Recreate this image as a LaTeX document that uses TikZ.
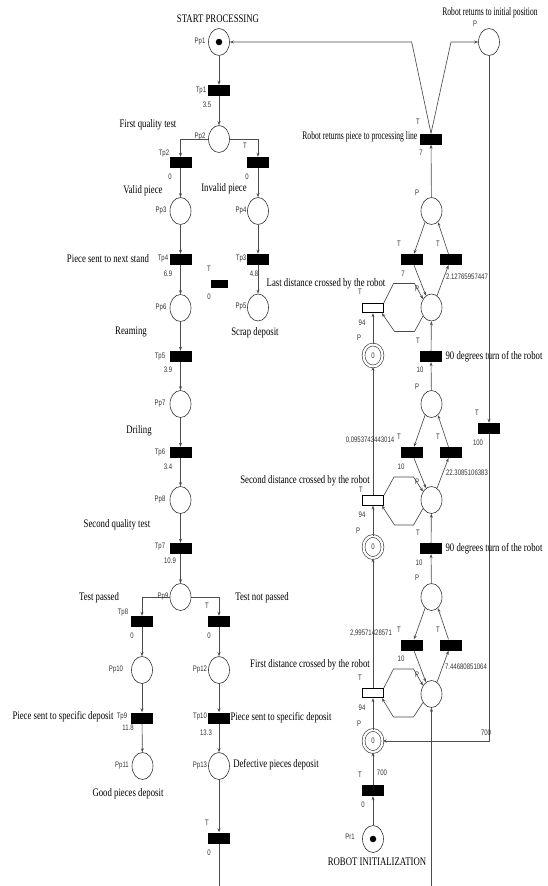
\documentclass[tikz,border=0pt]{standalone}
\usepackage{fontspec}
\usetikzlibrary{shapes.geometric,arrows.meta}
\newfontfamily\serifc[FakeStretch=0.76]{Liberation Serif}
\newfontfamily\serifn[FakeStretch=0.66]{Liberation Serif}
\newfontfamily\sansc[FakeStretch=0.75]{Liberation Sans}
\tikzset{
  pl/.style={ellipse, draw=black!80, line width=0.6pt, minimum width=21pt, minimum height=27pt, inner sep=0pt},
  tr/.style={rectangle, fill=black, minimum width=22pt, minimum height=11pt, inner sep=0pt},
  wtr/.style={rectangle, draw=black, fill=white, line width=0.8pt, minimum width=21pt, minimum height=9.5pt, inner sep=0pt},
  dpl/.style={ellipse, draw=black!80, line width=0.6pt, double=white, double distance=2.2pt, minimum width=19pt, minimum height=22pt, inner sep=0pt},
  tok/.style={circle, fill=black, minimum size=6.5pt, inner sep=0pt},
  lab/.style={font=\sansc\fontsize{8}{9}\selectfont, text=black!80, inner sep=0pt},
  ttl/.style={font=\serifc\fontsize{11.5}{12}\selectfont, text=black, inner sep=0pt},
  ttn/.style={font=\serifn\fontsize{11.5}{12}\selectfont, text=black, inner sep=0pt},
  arc/.style={draw=black!70, line width=0.65pt},
  arr/.style={arc, -{Stealth[length=4pt,width=3pt]}},
}
\begin{document}
\begin{tikzpicture}[x=1pt,y=-1pt]
\fill[white] (0,0) rectangle (548,886);
\useasboundingbox (0,0) rectangle (548,886);

% ---------------- left column: places and transitions
\node[pl] (Pp1) at (219,42) {};
\node[tok] (tk1) at (Pp1) {};
\node[tr] (Tp1) at (219,90.5) {};
\node[pl] (Pp2) at (219,139) {};
\node[tr] (Tp2) at (180.5,162.5) {};
\node[tr] (Tp2b) at (258,162.5) {};
\node[pl] (Pp3) at (180.5,211) {};
\node[pl] (Pp4) at (258,211) {};
\node[tr] (Tp4) at (180.5,259.5) {};
\node[tr] (Tp3) at (258,259.5) {};
\node[tr, minimum width=17pt, minimum height=8pt] (Tlone) at (219.5,284) {};
\node[pl] (Pp6) at (180.5,308) {};
\node[pl] (Pp5) at (258,307.5) {};
\node[tr] (Tp5) at (180.5,356.5) {};
\node[pl] (Pp7) at (180.5,404) {};
\node[tr] (Tp6) at (180.5,452.5) {};
\node[pl] (Pp8) at (180.5,500) {};
\node[tr] (Tp7) at (180.5,548.5) {};
\node[pl] (Pp9) at (180.5,597) {};
\node[tr] (Tp8) at (142,621.5) {};
\node[tr] (Tp8b) at (219,621.5) {};
\node[pl] (Pp10) at (142,670) {};
\node[pl] (Pp12) at (219,670) {};
\node[tr] (Tp9) at (142,718) {};
\node[tr] (Tp10) at (219,718) {};
\node[pl] (Pp11) at (142.5,766) {};
\node[pl] (Pp13) at (219,766) {};
\node[tr] (Tend) at (219,838) {};
\coordinate (endL) at (219,886);

% ---------------- right part
\node[pl] (Prt) at (489,42) {};
\node[tr] (Tret) at (431,139) {};
\node[pl] (Pa) at (431.5,211) {};
\node[tr] (TLa) at (412,259.5) {};
\node[tr] (TRa) at (450.5,259.5) {};
\node[pl] (C1) at (431.5,307.5) {};
\node[wtr] (WT1) at (373,308) {};
\node[dpl] (DC1) at (373,355.5) {};
\node[tr] (T90a) at (431,356.5) {};
\node[pl] (Pb) at (431.5,404) {};
\node[tr] (T100) at (489,428.5) {};
\node[tr] (TLb) at (412,452.5) {};
\node[tr] (TRb) at (450.5,452.5) {};
\node[pl] (C2) at (431.5,500) {};
\node[wtr] (WT2) at (373,500.5) {};
\node[dpl] (DC2) at (373,547) {};
\node[tr] (T90b) at (431,548.5) {};
\node[pl] (Pc) at (431.5,597) {};
\node[tr] (TLc) at (412,645) {};
\node[tr] (TRc) at (450.5,645) {};
\node[pl] (C3) at (431.5,694) {};
\node[wtr] (WT3) at (373,693) {};
\node[dpl] (DC3) at (373,741) {};
\node[tr] (Tinit) at (373,790.5) {};
\node[pl] (Pr1) at (373,839) {};
\node[tok] (tk2) at (Pr1) {};
\coordinate (endR) at (431.5,886);

\coordinate (k1) at (411.7,42);
\coordinate (k2) at (451,42);
\coordinate (h1a) at (393.5,283.5); \coordinate (h1b) at (414.5,283.5);
\coordinate (h1c) at (414.5,331.5); \coordinate (h1d) at (394.5,331.5);
\coordinate (h2a) at (394,477); \coordinate (h2b) at (413.5,477);
\coordinate (h2c) at (413.5,525); \coordinate (h2d) at (394.5,525);
\coordinate (h3a) at (393.5,669); \coordinate (h3b) at (413.5,669);
\coordinate (h3c) at (413.5,717); \coordinate (h3d) at (393.5,717);

% ---------------- left connectors
\draw[arr] (Pp1) -- (Tp1);
\draw[arr] (Tp1) -- (Pp2);
\draw[arr] (Pp2.west) -| (Tp2.north);
\draw[arr] (Pp2.east) -| (Tp2b.north);
\draw[arr] (Tp2) -- (Pp3);
\draw[arr] (Tp2b) -- (Pp4);
\draw[arr] (Pp3) -- (Tp4);
\draw[arr] (Pp4) -- (Tp3);
\draw[arr] (Tp4) -- (Pp6);
\draw[arr] (Tp3) -- (Pp5);
\draw[arr] (Pp6) -- (Tp5);
\draw[arr] (Tp5) -- (Pp7);
\draw[arr] (Pp7) -- (Tp6);
\draw[arr] (Tp6) -- (Pp8);
\draw[arr] (Pp8) -- (Tp7);
\draw[arr] (Tp7) -- (Pp9);
\draw[arr] (Pp9.west) -| (Tp8.north);
\draw[arr] (Pp9.east) -| (Tp8b.north);
\draw[arr] (Tp8) -- (Pp10);
\draw[arr] (Tp8b) -- (Pp12);
\draw[arr] (Pp10) -- (Tp9);
\draw[arr] (Pp12) -- (Tp10);
\draw[arr] (Tp9) -- (Pp11);
\draw[arr] (Tp10) -- (Pp13);
\draw[arr] (Pp13) -- (Tend);
\draw[arc] (Tend) -- (endL);

% ---------------- right connectors
\draw[arr] (Tret.north) -- (k1) -- (Pp1.east);
\draw[arr] (Tret.north) -- (k2) -- (Prt.west);
\draw[arr] (Prt) -- (T100);
\draw[arr] (T100.south) |- (DC3.east);
\draw[arr] (Pa) -- (Tret);
% group a
\draw[arr] (Pa.240) -- ([xshift=2pt]TLa.north);
\draw[arr] ([xshift=-2pt]TRa.north) -- (Pa.300);
\draw[arr] ([xshift=2pt]TLa.south) -- (C1.115);
\draw[arr] (C1.65) -- ([xshift=-2pt]TRa.south);
\draw[arr] (WT1.north east) -- (h1a) -- (h1b) -- (C1.135);
\draw[arr] (C1.225) -- (h1c) -- (h1d) -- ([xshift=-2pt]WT1.south east);
\draw[arr] (T90a) -- (C1);
\draw[arr] (Pb) -- (T90a);
% group b
\draw[arr] (Pb.240) -- ([xshift=2pt]TLb.north);
\draw[arr] ([xshift=-2pt]TRb.north) -- (Pb.300);
\draw[arr] ([xshift=2pt]TLb.south) -- (C2.115);
\draw[arr] (C2.65) -- ([xshift=-2pt]TRb.south);
\draw[arr] (WT2.north east) -- (h2a) -- (h2b) -- (C2.135);
\draw[arr] (C2.225) -- (h2c) -- (h2d) -- ([xshift=-2pt]WT2.south east);
\draw[arr] (T90b) -- (C2);
\draw[arr] (Pc) -- (T90b);
% group c
\draw[arr] (Pc.240) -- ([xshift=2pt]TLc.north);
\draw[arr] ([xshift=-2pt]TRc.north) -- (Pc.300);
\draw[arr] ([xshift=2pt]TLc.south) -- (C3.115);
\draw[arr] (C3.65) -- ([xshift=-2pt]TRc.south);
\draw[arr] (WT3.north east) -- (h3a) -- (h3b) -- (C3.135);
\draw[arr] (C3.225) -- (h3c) -- (h3d) -- ([xshift=-2pt]WT3.south east);
\draw[arr] (endR) -- (C3);
% robot chain
\draw[arr] (DC1) -- (WT1);
\draw[arr] (WT2) -- (DC1);
\draw[arr] (DC2) -- (WT2);
\draw[arr] (WT3) -- (DC2);
\draw[arr] (DC3) -- (WT3);
\draw[arr] (Tinit) -- (DC3);
\draw[arr] (Pr1) -- (Tinit);

% ---------------- titles
\node[ttl] (t1) at (218,19) {START PROCESSING};
\node[ttl] (t2) at (148,125) {First quality test};
\node[ttl] (t3) at (143,191) {Valid piece};
\node[ttl] (t4) at (224,189) {Invalid piece};
\node[ttl] (t5) at (108,259) {Piece sent to next stand};
\node[ttl] (t6) at (131,332) {Reaming};
\node[ttl] (t7) at (255,333) {Scrap deposit};
\node[ttl] (t8) at (139,431) {Driling};
\node[ttl] (t9) at (117,525) {Second quality test};
\node[ttl] (t10) at (99,598) {Test passed};
\node[ttl] (t11) at (262,598) {Test not passed};
\node[ttl] (t12) at (63,717) {Piece sent to specific deposit};
\node[ttl] (t13) at (281,718) {Piece sent to specific deposit};
\node[ttl] (t14) at (128,794) {Good pieces deposit};
\node[ttl] (t15) at (276,765) {Defective pieces deposit};
\node[ttn] (t16) at (490,13) {Robot returns to initial position};
\node[ttn, anchor=east] (t17) at (417.5,137) {Robot returns piece to processing line};
\node[ttl] (t18) at (326,284) {Last distance crossed by the robot};
\node[ttl] (t19) at (494,357) {90 degrees turn of the robot};
\node[ttl] (t20) at (305,481) {Second distance crossed by the robot};
\node[ttl] (t21) at (494,549) {90 degrees turn of the robot};
\node[ttl] (t22) at (310,665) {First distance crossed by the robot};
\node[ttl] (t23) at (377,862) {ROBOT INITIALIZATION};

% ---------------- small labels, left
\node[lab] (a1) at (200,42) {Pp1};
\node[lab] (a2) at (201,91) {Tp1};
\node[lab] (a3) at (207,105) {3.5};
\node[lab] (a4) at (200,137) {Pp2};
\node[lab] (a5) at (245,146) {T};
\node[lab] (a6) at (164,154) {Tp2};
\node[lab] (a7) at (170,177) {0};
\node[lab] (a8) at (247,177) {0};
\node[lab] (a9) at (161,211) {Pp3};
\node[lab] (a10) at (241,211) {Pp4};
\node[lab] (a11) at (163,259) {Tp4};
\node[lab] (a12) at (168,274) {6.9};
\node[lab] (a13) at (241,259) {Tp3};
\node[lab] (a14) at (254,274) {4.8};
\node[lab] (a15) at (209,269) {T};
\node[lab] (a16) at (209,297) {0};
\node[lab] (a17) at (161,308) {Pp6};
\node[lab] (a18) at (241,307) {Pp5};
\node[lab] (a19) at (160,357) {Tp5};
\node[lab] (a20) at (168,370) {3.9};
\node[lab] (a21) at (160,404) {Pp7};
\node[lab] (a22) at (160,453) {Tp6};
\node[lab] (a23) at (168,467) {3.4};
\node[lab] (a24) at (160,500) {Pp8};
\node[lab] (a25) at (160,547) {Tp7};
\node[lab] (a26) at (170,561) {10.9};
\node[lab] (a27) at (163,597) {Pp9};
\node[lab] (a28) at (123,613) {Tp8};
\node[lab] (a29) at (132,636) {0};
\node[lab] (a30) at (207,606) {T};
\node[lab] (a31) at (209,636) {0};
\node[lab] (a32) at (116,670) {Pp10};
\node[lab] (a33) at (200,670) {Pp12};
\node[lab] (a34) at (122,717) {Tp9};
\node[lab] (a35) at (128,728) {11.8};
\node[lab] (a36) at (200,717) {Tp10};
\node[lab] (a37) at (206,733) {13.3};
\node[lab] (a38) at (122,766) {Pp11};
\node[lab] (a39) at (200,766) {Pp13};
\node[lab] (a40) at (207,823) {T};
\node[lab] (a41) at (209,853) {0};

% ---------------- small labels, right
\node[lab] (b1) at (475,24) {P};
\node[lab] (b2) at (418,122) {T};
\node[lab] (b3) at (421,153) {7};
\node[lab] (b4) at (417,193) {P};
\node[lab] (b5) at (399,244) {T};
\node[lab] (b6) at (438,244) {T};
\node[lab] (b7) at (403,274) {7};
\node[lab] (b8) at (467,277) {2.12765957447};
\node[lab] (b9) at (417,289) {P};
\node[lab] (b10) at (360,292) {T};
\node[lab] (b11) at (362,323) {94};
\node[lab] (b12) at (359,338) {P};
\node[lab] (b13) at (DC1) {0};
\node[lab] (b14) at (418,341) {T};
\node[lab] (b15) at (420,370) {10};
\node[lab] (b16) at (417,387) {P};
\node[lab] (b17) at (477,413) {T};
\node[lab] (b18) at (478,443) {100};
\node[lab] (b19) at (399,437) {T};
\node[lab] (b20) at (438,437) {T};
\node[lab] (b21) at (370,440) {0,0953743443014};
\node[lab] (b22) at (401,467) {10};
\node[lab] (b23) at (467,473) {22.3085106383};
\node[lab] (b24) at (417,482) {P};
\node[lab] (b25) at (361,490) {T};
\node[lab] (b26) at (362,515) {94};
\node[lab] (b27) at (358,531) {P};
\node[lab] (b28) at (DC2) {0};
\node[lab] (b29) at (418,533) {T};
\node[lab] (b30) at (419,563) {10};
\node[lab] (b31) at (417,578) {P};
\node[lab] (b32) at (399,630) {T};
\node[lab] (b33) at (438,630) {T};
\node[lab] (b34) at (371,633) {2,99571428571};
\node[lab] (b35) at (401,659) {10};
\node[lab] (b36) at (466,667) {7.44680851064};
\node[lab] (b37) at (417,675) {P};
\node[lab] (b38) at (360,678) {T};
\node[lab] (b39) at (362,708) {94};
\node[lab] (b40) at (359,724) {P};
\node[lab] (b41) at (DC3) {0};
\node[lab] (b42) at (486,733) {700};
\node[lab] (b43) at (360,775) {T};
\node[lab] (b44) at (382,773) {700};
\node[lab] (b45) at (363,805) {0};
\node[lab] (b46) at (350,837) {Pr1};
\end{tikzpicture}
\end{document}
